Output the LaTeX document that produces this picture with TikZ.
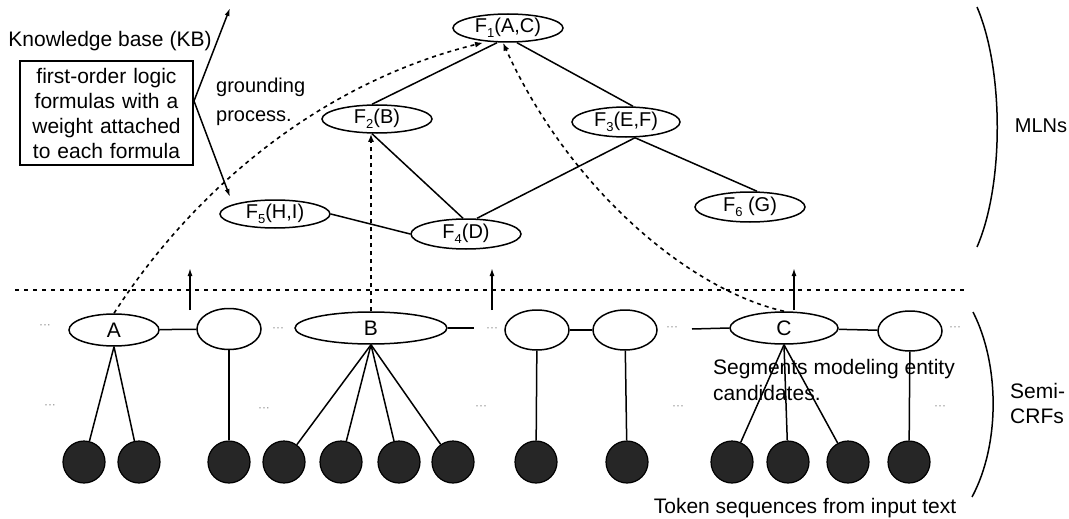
\documentclass[tikz,border=0pt]{standalone}
\usepackage{fontspec}
\setmainfont{Liberation Sans}
\usetikzlibrary{arrows.meta,shapes.geometric}
\newcommand{\fsub}[1]{\raisebox{-0.45ex}{\fontsize{13}{13}\selectfont #1}}
\tikzset{
  fnode/.style={ellipse, draw, line width=1.5pt, inner sep=0pt, minimum width=110pt, minimum height=28pt},
  ftext/.style={font=\fontsize{20}{20}\selectfont, inner sep=0pt},
  seg/.style={ellipse, draw, line width=1.5pt, inner sep=0pt, font=\fontsize{21}{21}\selectfont},
  tok/.style={circle, draw, line width=1.2pt, fill=black!85, minimum size=42pt, inner sep=0pt},
  link/.style={line width=1.5pt},
  dsh/.style={line width=1.6pt, dash pattern=on 4pt off 4pt, -{Latex[length=8pt,width=6pt]}},
  uparr/.style={line width=1.5pt, -{Latex[length=8pt,width=5pt]}},
  lbl/.style={font=\fontsize{21}{25}\selectfont, inner sep=0pt},
  dotsl/.style={text=black!45, font=\fontsize{12}{12}\selectfont, inner sep=0pt},
}
\begin{document}
\begin{tikzpicture}[x=1pt,y=-1pt]
\useasboundingbox (0,0) rectangle (1069,519);

% ---------- MLN graph ----------
\node[fnode] (F1) at (508,28) {};
\node[ftext] (F1t) at (F1) {F\fsub{1}(A,C)};
\node[fnode] (F2) at (377,119) {};
\node[ftext] (F2t) at (F2) {F\fsub{2}(B)};
\node[fnode, minimum width=108pt, minimum height=30pt] (F3) at (626,122) {};
\node[ftext] (F3t) at (F3) {F\fsub{3}(E,F)};
\node[fnode, minimum height=30pt] (F4) at (466,234) {};
\node[ftext] (F4t) at (F4) {F\fsub{4}(D)};
\node[fnode] (F5) at (275,214) {};
\node[ftext] (F5t) at (F5) {F\fsub{5}(H,I)};
\node[fnode, minimum height=30pt] (F6) at (750,207) {};
\node[ftext] (F6t) at (F6) {F\fsub{6} (G)};

\draw[link] ([xshift=-11pt]F1.south) -- ([xshift=-5pt]F2.north);
\draw[link] ([xshift=9pt]F1.south) -- ([xshift=7pt]F3.north);
\draw[link] ([xshift=-5pt]F2.south) -- ([xshift=-3pt]F4.north);
\draw[link] ([xshift=9pt]F3.south) -- ([xshift=11pt]F4.north);
\draw[link] ([xshift=9pt]F3.south) -- ([xshift=7pt]F6.north);
\draw[link] (F5.east) -- (F4.west);

% ---------- Knowledge base ----------
\node[lbl] (kbt) at (110,41) {Knowledge base (KB)};
\node[lbl, draw, line width=1.4pt, text width=171pt, inner xsep=1pt, align=center, minimum height=104pt] (kb) at (106.5,113)
  {first-order logic\\formulas with a\\weight attached\\to each formula};
\coordinate (g) at (194,101);
\coordinate (kbup) at (230,8);
\draw[uparr] (g) -- (kbup);
\draw[uparr] (g) -- ([xshift=-45pt,yshift=17pt]F5.center);
\node[lbl, align=left, anchor=west, font=\fontsize{20}{29}\selectfont] (gp) at (216,102) {grounding\\process.};

% ---------- separator ----------
\coordinate (hl) at (15,290);
\coordinate (hr) at (965,290);
\draw[line width=1.5pt, dash pattern=on 4pt off 5pt] (hl) -- (hr);

\coordinate (u1b) at (190,310); \coordinate (u1t) at (190,268);
\coordinate (u2b) at (492,310); \coordinate (u2t) at (492,268);
\coordinate (u3b) at (794,310); \coordinate (u3t) at (794,268);
\draw[uparr] (u1b) -- (u1t);
\draw[uparr] (u2b) -- (u2t);
\draw[uparr] (u3b) -- (u3t);

% ---------- Semi-CRF segments ----------
\node[seg, minimum width=90pt, minimum height=32pt] (A) at (114,330) {A};
\node[seg, minimum width=64pt, minimum height=41pt] (e1) at (229,329) {};
\node[seg, minimum width=152pt, minimum height=32pt] (B) at (371,328) {B};
\coordinate (Bs) at (474,328);
\node[seg, minimum width=64pt, minimum height=40pt] (e2) at (537,330) {};
\node[seg, minimum width=64pt, minimum height=40pt] (e3) at (625,330) {};
\coordinate (Cs) at (692,329);
\node[seg, minimum width=108pt, minimum height=32pt] (C) at (784,328) {C};
\node[seg, minimum width=64pt, minimum height=40pt] (e4) at (910,331) {};

\draw[link] (A) -- (e1);
\draw[link] (B.east) -- (Bs);
\draw[link] (e2) -- (e3);
\draw[link] (Cs) -- (C.west);
\draw[link] (C) -- (e4);

% ---------- tokens ----------
\foreach \n/\x in {1/84, 2/139, 3/229, 4/284, 5/341, 6/399, 7/453, 8/536, 9/627, 10/732, 11/788, 12/848, 13/909}
  \node[tok] (t\n) at (\x,462) {};

\draw[link] (A.south) -- (t1);
\draw[link] (A.south) -- (t2);
\draw[link] (e1) -- (t3);
\draw[link] (B.south) -- (t4);
\draw[link] (B.south) -- (t5);
\draw[link] (B.south) -- (t6);
\draw[link] (B.south) -- (t7);
\draw[link] (e2) -- (t8);
\draw[link] (e3) -- (t9);
\draw[link] (C.south) -- (t10);
\draw[link] (C.south) -- (t11);
\draw[link] (C.south) -- (t12);
\draw[link] (e4) -- (t13);

% ---------- dashed grounding links ----------
\draw[dsh] (A.north) .. controls (200,180) and (330,80) .. ([xshift=-25pt]F1.south);
\draw[dsh] (C.north) .. controls (690,290) and (570,190) .. ([xshift=-5pt]F1.south);
\draw[dsh] (B.north) -- (B.north |- F2.south);

% ---------- faint ellipses ----------
\foreach \n/\x/\y in {1/45/327, 2/50/407, 3/278/330, 4/264/410, 5/492/330, 6/481/408, 7/672/329, 8/678/408, 9/955/329, 10/940/408}
  \node[dotsl] (d\n) at (\x,\y) {···};

% ---------- labels ----------
\node[lbl, align=left, anchor=west, font=\fontsize{21}{26}\selectfont] (segt) at (713,380) {Segments modeling entity\\candidates.};
\node[lbl] (tokt) at (805,508) {Token sequences from input text};
\node[lbl, font=\fontsize{20}{20}\selectfont] (mln) at (1041,126) {MLNs};
\node[lbl, align=left, anchor=west] (semi) at (1010,403) {Semi-\\CRFs};

% ---------- brackets ----------
\coordinate (m1) at (977,7); \coordinate (m2) at (977,247);
\draw[line width=1.5pt] (m1) .. controls (1004,70) and (1004,185) .. (m2);
\coordinate (s1) at (973,312); \coordinate (s2) at (972,497);
\draw[line width=1.5pt] (s1) .. controls (1000,365) and (1000,445) .. (s2);
\end{tikzpicture}
\end{document}
